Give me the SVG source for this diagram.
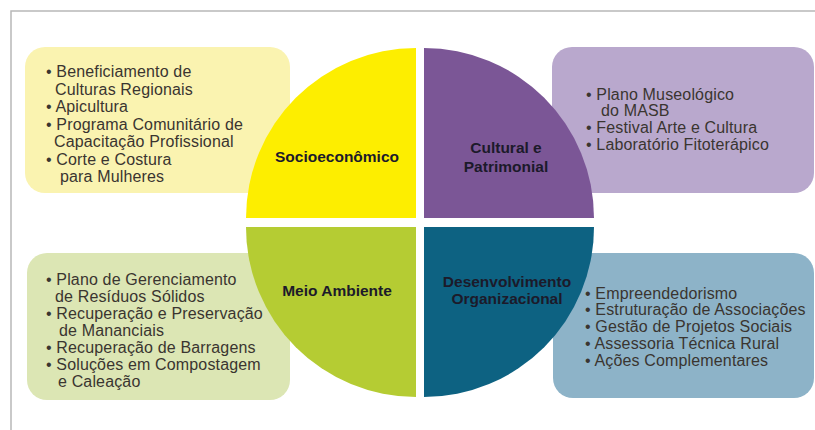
<svg xmlns="http://www.w3.org/2000/svg" width="815" height="430" viewBox="0 0 815 430">
<style>
.list{font-family:"Liberation Sans",Arial,sans-serif;font-size:16px;letter-spacing:0.15px;fill:#3a3530}
.lbl{font-family:"Liberation Sans",Arial,sans-serif;font-size:15.5px;font-weight:bold;fill:#1c1a2a;text-anchor:middle}
.box{stroke:none}
</style>
<rect width="815" height="430" fill="#ffffff"/>
<path d="M11,430 L11,11 L815,11" fill="none" stroke="#b8b8b8" stroke-width="1.5"/>
<g id="box-socio"><rect class="box" x="25" y="47" width="265" height="146" rx="20" fill="#faf3b0"/>
<text class="list"><tspan x="46" y="77">• Beneficiamento de</tspan><tspan x="55" y="94.5">Culturas Regionais</tspan><tspan x="46" y="112">• Apicultura</tspan><tspan x="46" y="129.5">• Programa Comunitário de</tspan><tspan x="54" y="147">Capacitação Profissional</tspan><tspan x="46" y="164.5">• Corte e Costura</tspan><tspan x="60" y="182">para Mulheres</tspan></text></g>
<g id="box-cultural"><rect class="box" x="552" y="47" width="262" height="146" rx="20" fill="#b9a8cd"/>
<text class="list"><tspan x="586" y="99.5">• Plano Museológico</tspan><tspan x="601" y="116">do MASB</tspan><tspan x="586" y="133">• Festival Arte e Cultura</tspan><tspan x="586" y="150">• Laboratório Fitoterápico</tspan></text></g>
<g id="box-meio"><rect class="box" x="27" y="253" width="263" height="147" rx="20" fill="#dce6b4"/>
<text class="list"><tspan x="46" y="284.5">• Plano de Gerenciamento</tspan><tspan x="55" y="301.5">de Resíduos Sólidos</tspan><tspan x="46" y="319">• Recuperação e Preservação</tspan><tspan x="59" y="336">de Mananciais</tspan><tspan x="46" y="353">• Recuperação de Barragens</tspan><tspan x="46" y="370">• Soluções em Compostagem</tspan><tspan x="58" y="387">e Caleação</tspan></text></g>
<g id="box-desenv"><rect class="box" x="553" y="253" width="261" height="145" rx="20" fill="#8db3c8"/>
<text class="list"><tspan x="585" y="298.5">• Empreendedorismo</tspan><tspan x="585" y="315">• Estruturação de Associações</tspan><tspan x="585" y="332">• Gestão de Projetos Sociais</tspan><tspan x="585" y="349">• Assessoria Técnica Rural</tspan><tspan x="585" y="366">• Ações Complementares</tspan></text></g>
<g id="q-socio"><path d="M416,218 L416,48 A170,170 0 0 0 246,218 Z" fill="#fdee00"/><text class="lbl" x="337" y="162">Socioeconômico</text></g>
<g id="q-cultural"><path d="M424,218 L424,48 A170,170 0 0 1 594,218 Z" fill="#7b5696"/><text class="lbl" x="506" y="153">Cultural e</text><text class="lbl" x="506" y="172">Patrimonial</text></g>
<g id="q-meio"><path d="M416,227 L246,227 A170,170 0 0 0 416,397 Z" fill="#b5cc33"/><text class="lbl" x="337" y="296">Meio Ambiente</text></g>
<g id="q-desenv"><path d="M424,227 L594,227 A170,170 0 0 1 424,397 Z" fill="#0d6282"/><text class="lbl" x="507" y="287">Desenvolvimento</text><text class="lbl" x="507" y="304">Organizacional</text></g>
<g id="connectors"></g>
</svg>
